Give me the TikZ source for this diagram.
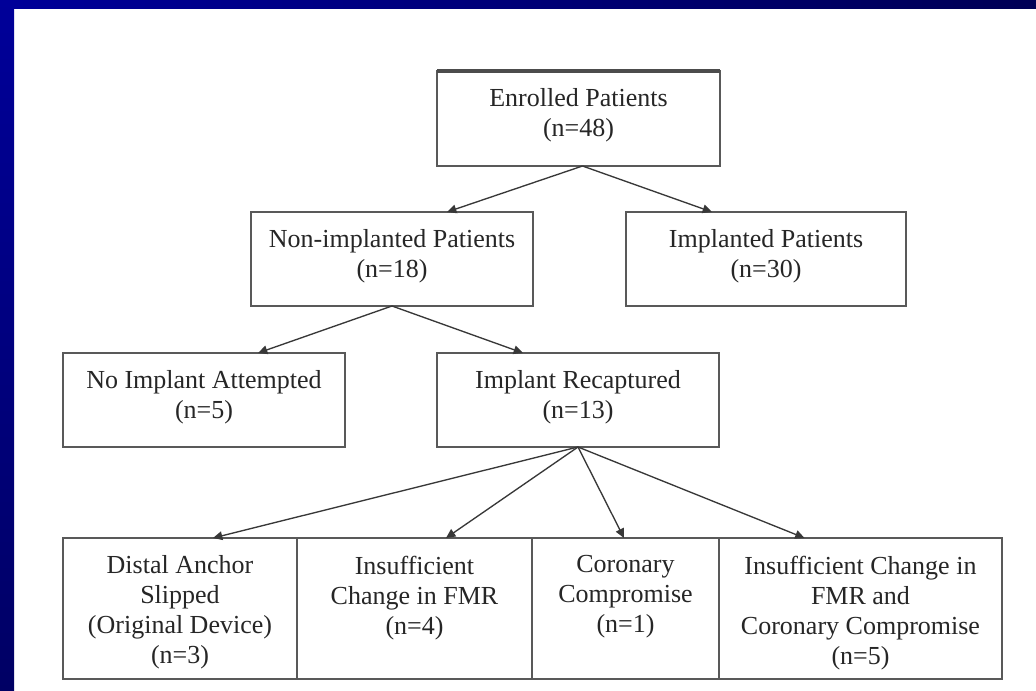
\documentclass[tikz,border=0pt]{standalone}
\usepackage{fontspec}
\setmainfont{Liberation Serif}
\usetikzlibrary{arrows.meta,calc}
\def\pxl{0.75pt}
\definecolor{bluetl}{RGB}{0,0,153}
\definecolor{bluetr}{RGB}{0,0,85}
\definecolor{bluebl}{RGB}{0,0,100}
\begin{document}
\begin{tikzpicture}[x=0.75pt,y=-0.75pt,
  box/.style={draw=black!65, line width=1.2pt, inner sep=0pt, outer sep=0pt},
  txt/.style={align=center, anchor=north, inner sep=0pt, text=black!85,
    font=\fontsize{19.5}{22.5}\selectfont},
  arr/.style={draw=black!78, line width=1pt, -{Triangle[length=7pt,width=6.5pt]}}]
\useasboundingbox (0,0) rectangle (1036,691);
\fill[white] (0,0) rectangle (1036,691);
\shade[left color=bluetl, right color=bluetr] (0,0) rectangle (1036,9);
\shade[top color=bluetl, bottom color=bluebl] (0,0) rectangle (14,691);

% boxes
\node[box, minimum width=283*\pxl, minimum height=95*\pxl] (enr) at (578.5,118.5) {};
\node[box, minimum width=282*\pxl, minimum height=94*\pxl] (non) at (392,259) {};
\node[box, minimum width=280*\pxl, minimum height=94*\pxl] (imp) at (766,259) {};
\node[box, minimum width=282*\pxl, minimum height=94*\pxl] (noi) at (204,400) {};
\node[box, minimum width=282*\pxl, minimum height=94*\pxl] (rec) at (578,400) {};
\node[box, minimum width=234*\pxl, minimum height=141*\pxl] (c1) at (180,608.5) {};
\node[box, minimum width=235*\pxl, minimum height=141*\pxl] (c2) at (414.5,608.5) {};
\node[box, minimum width=187*\pxl, minimum height=141*\pxl] (c3) at (625.5,608.5) {};
\node[box, minimum width=283*\pxl, minimum height=141*\pxl] (c4) at (860.5,608.5) {};
\draw[black!70, line width=2.4pt] (enr.north west) -- (enr.north east);

% texts
\node[txt] (tenr) at ($(enr.north)+(0,17.5)$) {Enrolled Patients\\(n=48)};
\node[txt] (tnon) at ($(non.north)+(0,17.5)$) {Non-implanted Patients\\(n=18)};
\node[txt] (timp) at ($(imp.north)+(0,17.5)$) {Implanted Patients\\(n=30)};
\node[txt] (tnoi) at ($(noi.north)+(0,17.5)$) {No Implant Attempted\\(n=5)};
\node[txt] (trec) at ($(rec.north)+(0,17.5)$) {Implant Recaptured\\(n=13)};
\node[txt] (tc1) at ($(c1.north)+(0,17.5)$) {Distal Anchor\\Slipped\\(Original Device)\\(n=3)};
\node[txt] (tc2) at ($(c2.north)+(0,17.5)$) {Insufficient\\Change in FMR\\(n=4)};
\node[txt] (tc3) at ($(c3.north)+(0,17.5)$) {Coronary\\Compromise\\(n=1)};
\node[txt] (tc4) at ($(c4.north)+(0,17.5)$) {Insufficient Change in\\FMR and\\Coronary Compromise\\(n=5)};

% connectors
\draw[arr] ($(enr.south)+(4,0)$) -- ($(non.north)+(55,0)$);
\draw[arr] ($(enr.south)+(4,0)$) -- ($(imp.north)+(-54,0)$);
\draw[arr] (non.south) -- ($(noi.north)+(54,0)$);
\draw[arr] (non.south) -- ($(rec.north)+(-55,0)$);
\draw[arr] (rec.south) -- ($(c1.north)+(33,0)$);
\draw[arr] (rec.south) -- ($(c2.north)+(31.5,0)$);
\draw[arr] (rec.south) -- ($(c3.north)+(-1.5,0)$);
\draw[arr] (rec.south) -- ($(c4.north)+(-56,0)$);
\end{tikzpicture}
\end{document}
